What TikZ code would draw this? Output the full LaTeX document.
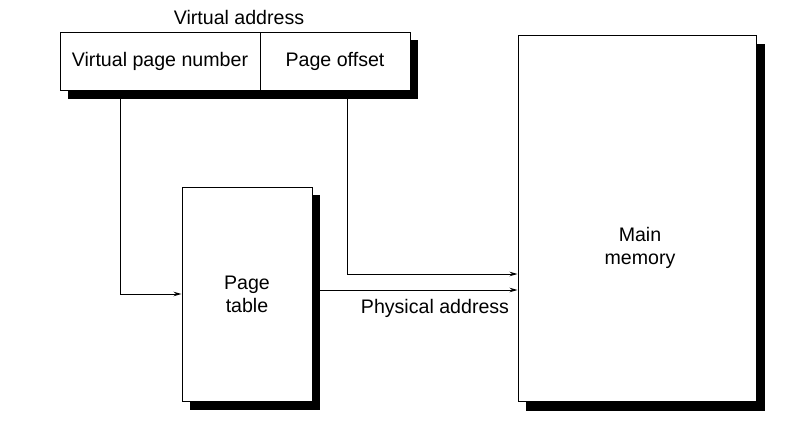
\documentclass[tikz,border=0pt]{standalone}
\usepackage{fontspec}
\setmainfont{Liberation Sans}
\usetikzlibrary{arrows.meta}
\begin{document}
\begin{tikzpicture}[x=1pt,y=-1pt,
  box/.style={draw=black,fill=white,line width=1pt,inner sep=0pt,
    font=\fontsize{19.6}{23}\selectfont,align=center},
  shad/.style={fill=black},
  lbl/.style={font=\fontsize{19.6}{23}\selectfont,align=center,inner sep=0pt},
  arr/.style={line width=0.9pt,-{Stealth[length=8pt,width=4.5pt]}},
  ln/.style={line width=0.9pt}]
\useasboundingbox[fill=white] (0,0) rectangle (802,423);
% shadows
\fill[shad] (68,40) rectangle (418,99);
\fill[shad] (190,195) rectangle (320,410);
\fill[shad] (526,44) rectangle (765,411);
% boxes
\node[box,minimum width=200pt,minimum height=58pt] (vpn) at (160,61) {Virtual page number};
\node[box,minimum width=150pt,minimum height=58pt] (po) at (335,61) {Page offset};
\node[lbl] (va) at (239,17) {Virtual address};
\node[box,minimum width=130pt,minimum height=214pt] (pt) at (247,294) {Page\\table};
\node[box,minimum width=238pt,minimum height=366pt] (mm) at (637,218) {};
\node[lbl] (mmt) at (640,248) {Main\\memory};
\node[lbl] (pa) at (435,308) {Physical address};
% connectors
\coordinate (c1) at (120,99);
\coordinate (c2) at (347,99);
\coordinate (c3) at (320,290);
\draw[arr] (c1) |- (pt.west);
\draw[arr] (c2) |- (mm.west |- 0,274);
\draw[arr] (c3) -- (mm.west |- c3);
\end{tikzpicture}
\end{document}
